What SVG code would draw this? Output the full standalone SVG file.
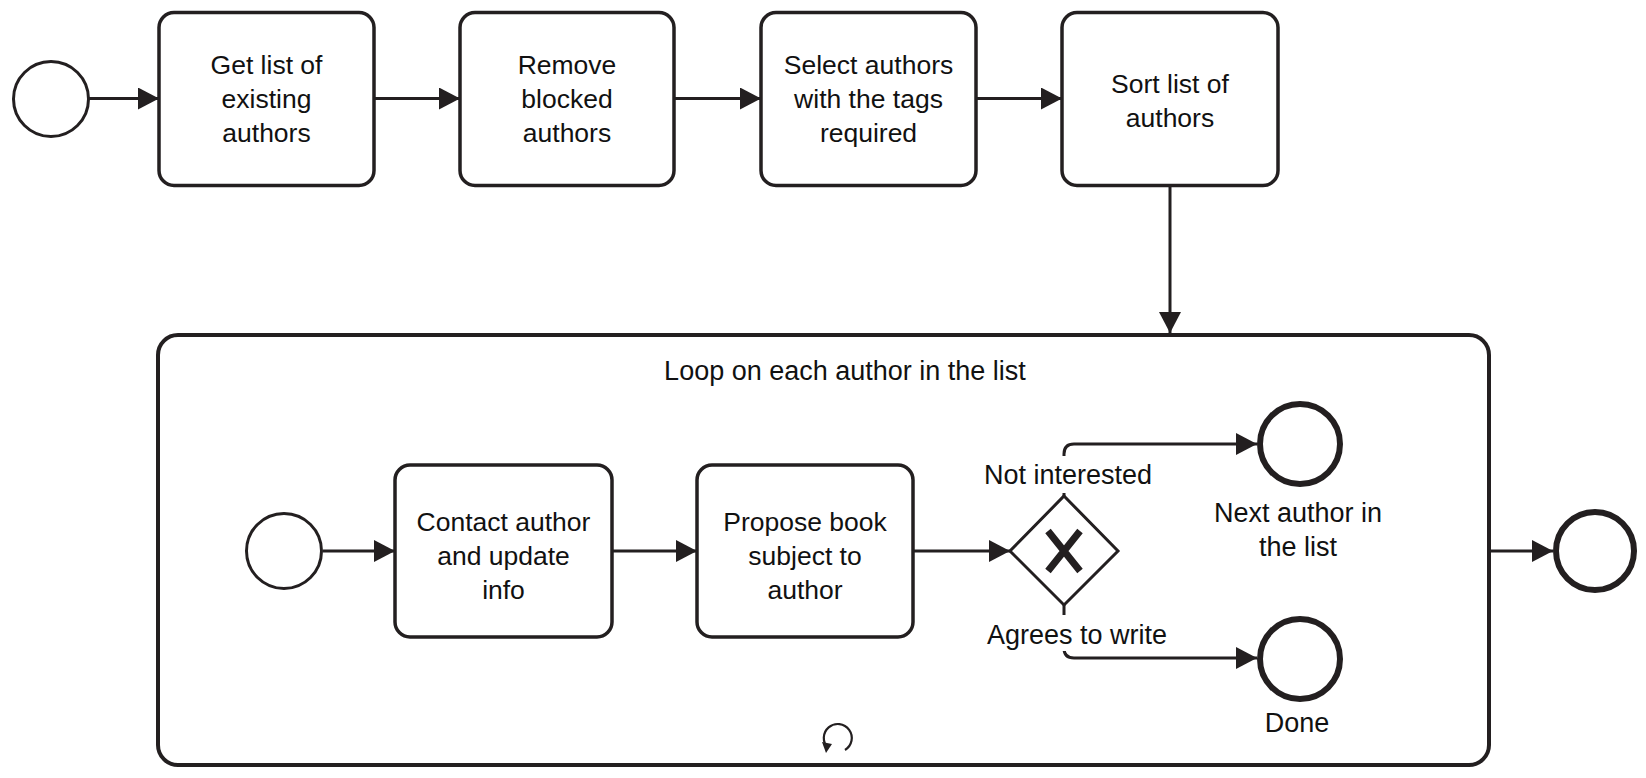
<svg xmlns="http://www.w3.org/2000/svg" width="1646" height="778" viewBox="0 0 1646 778">
<style>
  .task { fill: #fff; stroke: #231f20; stroke-width: 3.5; }
  .sub { fill: #fff; stroke: #231f20; stroke-width: 4; }
  .start { fill: #fff; stroke: #231f20; stroke-width: 3; }
  .end { fill: #fff; stroke: #231f20; stroke-width: 6; }
  .gw { fill: #fff; stroke: #231f20; stroke-width: 3; }
  .flow { fill: none; stroke: #231f20; stroke-width: 3; }
  text { font-family: "Liberation Sans", Arial, sans-serif; fill: #111; text-anchor: middle; }
  .t { font-size: 26.5px; }
  .l { font-size: 27px; }
</style>
<defs>
  <marker id="arrow" markerUnits="userSpaceOnUse" markerWidth="22" markerHeight="22" refX="21" refY="11" orient="auto">
    <path d="M0,0 L21,11 L0,22 z" fill="#231f20"/>
  </marker>
</defs>
<rect x="0" y="0" width="1646" height="778" fill="#fff"/>

<g id="subprocess">
  <rect class="sub" x="158" y="335" width="1331" height="430" rx="20" ry="20"/>
  <text class="l" x="845" y="380">Loop on each author in the list</text>
  <path d="M845,750 A14,14 0 1 0 828,748" fill="none" stroke="#231f20" stroke-width="2.2"/>
  <path d="M822,742 L832,744 L826,753 z" fill="#231f20"/>
</g>

<g id="connectors">
  <path class="flow" d="M89,98.5 L159,98.5" marker-end="url(#arrow)"/>
  <path class="flow" d="M374,98.5 L460,98.5" marker-end="url(#arrow)"/>
  <path class="flow" d="M674,98.5 L761,98.5" marker-end="url(#arrow)"/>
  <path class="flow" d="M976,98.5 L1062,98.5" marker-end="url(#arrow)"/>
  <path class="flow" d="M1170,186 L1170,333" marker-end="url(#arrow)"/>
  <path class="flow" d="M323,551 L395,551" marker-end="url(#arrow)"/>
  <path class="flow" d="M612,551 L697,551" marker-end="url(#arrow)"/>
  <path class="flow" d="M913,551 L1010,551" marker-end="url(#arrow)"/>
  <path class="flow" d="M1064,496 L1064,454 Q1064,444 1074,444 L1257,444" marker-end="url(#arrow)"/>
  <path class="flow" d="M1064,604 L1064,648 Q1064,658 1074,658 L1257,658" marker-end="url(#arrow)"/>
  <path class="flow" d="M1489,551 L1553,551" marker-end="url(#arrow)"/>
</g>

<g id="start">
  <circle class="start" cx="51" cy="99" r="37.5"/>
</g>

<g id="task-get-list">
  <rect class="task" x="159" y="12.5" width="215" height="173" rx="15" ry="15"/>
  <text class="t" x="266.5" y="74">Get list of</text>
  <text class="t" x="266.5" y="108">existing</text>
  <text class="t" x="266.5" y="142">authors</text>
</g>

<g id="task-remove-blocked">
  <rect class="task" x="460" y="12.5" width="214" height="173" rx="15" ry="15"/>
  <text class="t" x="567" y="74">Remove</text>
  <text class="t" x="567" y="108">blocked</text>
  <text class="t" x="567" y="142">authors</text>
</g>

<g id="task-select-authors">
  <rect class="task" x="761" y="12.5" width="215" height="173" rx="15" ry="15"/>
  <text class="t" x="868.5" y="74">Select authors</text>
  <text class="t" x="868.5" y="108">with the tags</text>
  <text class="t" x="868.5" y="142">required</text>
</g>

<g id="task-sort-list">
  <rect class="task" x="1062" y="12.5" width="216" height="173" rx="15" ry="15"/>
  <text class="t" x="1170" y="93">Sort list of</text>
  <text class="t" x="1170" y="127">authors</text>
</g>

<g id="inner-start">
  <circle class="start" cx="284" cy="551" r="37.5"/>
</g>

<g id="task-contact-author">
  <rect class="task" x="395" y="465" width="217" height="172" rx="15" ry="15"/>
  <text class="t" x="503.5" y="531">Contact author</text>
  <text class="t" x="503.5" y="565">and update</text>
  <text class="t" x="503.5" y="599">info</text>
</g>

<g id="task-propose-book">
  <rect class="task" x="697" y="465" width="216" height="172" rx="15" ry="15"/>
  <text class="t" x="805" y="531">Propose book</text>
  <text class="t" x="805" y="565">subject to</text>
  <text class="t" x="805" y="599">author</text>
</g>

<g id="gateway">
  <polygon class="gw" points="1064,496 1118,551 1064,605 1010,551"/>
  <path d="M1048,531 L1080,571 M1080,531 L1048,571" stroke="#231f20" stroke-width="7" fill="none"/>
</g>

<g id="label-not-interested">
  <rect x="1050" y="456" width="30" height="37" fill="#fff"/>
  <text class="l" x="1068" y="484">Not interested</text>
</g>

<g id="label-agrees">
  <rect x="1050" y="615" width="30" height="36" fill="#fff"/>
  <text class="l" x="1077" y="644">Agrees to write</text>
</g>

<g id="end-next-author">
  <circle class="end" cx="1300" cy="444" r="40"/>
  <text class="l" x="1298" y="522">Next author in</text>
  <text class="l" x="1298" y="556">the list</text>
</g>

<g id="end-done">
  <circle class="end" cx="1300" cy="659" r="40"/>
  <text class="l" x="1297" y="732">Done</text>
</g>

<g id="end">
  <circle class="end" cx="1595" cy="551" r="39"/>
</g>
</svg>
